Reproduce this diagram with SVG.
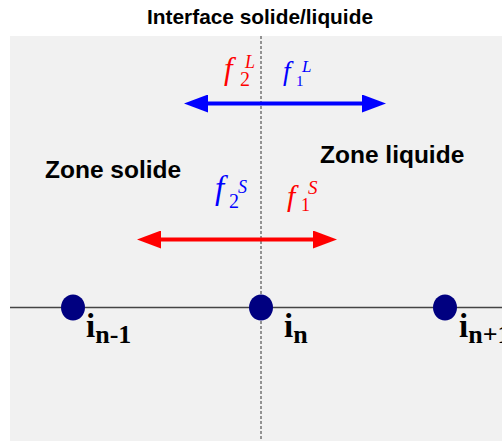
<svg xmlns="http://www.w3.org/2000/svg" width="502" height="441" viewBox="0 0 502 441">
<style>
.title{font-family:"Liberation Sans",Arial,sans-serif;font-weight:bold;font-size:21px;fill:#000}
.zone{font-family:"Liberation Sans",Arial,sans-serif;font-weight:bold;font-size:24.5px;fill:#000}
.f{font-family:"Liberation Serif","Times New Roman",serif;font-style:italic}
.sub{font-family:"Liberation Serif","Times New Roman",serif;font-style:normal}
.lbl{font-family:"Liberation Serif","Times New Roman",serif;font-weight:bold;fill:#000}
.red{fill:#ff0000}
.blue{fill:#0000ff}
.node{fill:#000080}
</style>
<defs>
<marker id="hb" viewBox="0 0 24 18" refX="1" refY="9" markerWidth="24" markerHeight="18" markerUnits="userSpaceOnUse" orient="auto-start-reverse">
<path d="M0,0 L24,9 L0,18 Z" fill="#0000ff"/>
</marker>
<marker id="hr" viewBox="0 0 24 18" refX="1" refY="9" markerWidth="24" markerHeight="18" markerUnits="userSpaceOnUse" orient="auto-start-reverse">
<path d="M0,0 L24,9 L0,18 Z" fill="#ff0000"/>
</marker>
</defs>
<rect x="0" y="0" width="502" height="441" fill="#ffffff"/>
<rect id="background" x="10" y="36" width="492" height="405" fill="#f1f1f1"/>
<text id="title" class="title" x="260" y="24" text-anchor="middle" textLength="226" lengthAdjust="spacingAndGlyphs">Interface solide/liquide</text>
<g id="axes">
<line x1="10" y1="307.5" x2="502" y2="307.5" stroke="#444444" stroke-width="1.5"/>
<line x1="261" y1="36" x2="261" y2="441" stroke="#333333" stroke-width="1" stroke-dasharray="3 2"/>
</g>
<g id="zone-solide"><text class="zone" x="45" y="178">Zone solide</text></g>
<g id="zone-liquide"><text class="zone" x="320" y="163">Zone liquide</text></g>
<g id="connectors">
<line x1="207" y1="103.5" x2="363" y2="103.5" stroke="#0000ff" stroke-width="4" marker-start="url(#hb)" marker-end="url(#hb)"/>
<line x1="160" y1="239.5" x2="314" y2="239.5" stroke="#ff0000" stroke-width="4" marker-start="url(#hr)" marker-end="url(#hr)"/>
</g>
<g id="f2L" class="red">
<text class="f" x="224" y="79" font-size="31">f</text>
<text class="sub" x="240" y="86" font-size="20">2</text>
<text class="f" x="245" y="68" font-size="18">L</text>
</g>
<g id="f1L" class="blue">
<text class="f" x="283" y="80" font-size="27">f</text>
<text class="sub" x="296" y="86" font-size="15">1</text>
<text class="f" x="302" y="72" font-size="17">L</text>
</g>
<g id="f2S" class="blue">
<text class="f" x="215" y="199" font-size="33">f</text>
<text class="sub" x="229" y="208" font-size="20">2</text>
<text class="f" x="238" y="193" font-size="18">S</text>
</g>
<g id="f1S" class="red">
<text class="f" x="287" y="206" font-size="30">f</text>
<text class="sub" x="301" y="211" font-size="18">1</text>
<text class="f" x="308" y="194" font-size="19">S</text>
</g>
<g id="node-n-1">
<ellipse class="node" cx="73" cy="307.5" rx="12" ry="13"/>
<text class="lbl" x="86" y="337" font-size="33">i<tspan font-size="26" y="343">n-1</tspan></text>
</g>
<g id="node-n">
<ellipse class="node" cx="261" cy="307.5" rx="12" ry="13"/>
<text class="lbl" x="284" y="337" font-size="33">i<tspan font-size="26" y="343">n</tspan></text>
</g>
<g id="node-n+1">
<ellipse class="node" cx="445" cy="307.5" rx="12" ry="13"/>
<text class="lbl" x="459" y="337" font-size="33">i<tspan font-size="26" y="343">n+1</tspan></text>
</g>
</svg>
